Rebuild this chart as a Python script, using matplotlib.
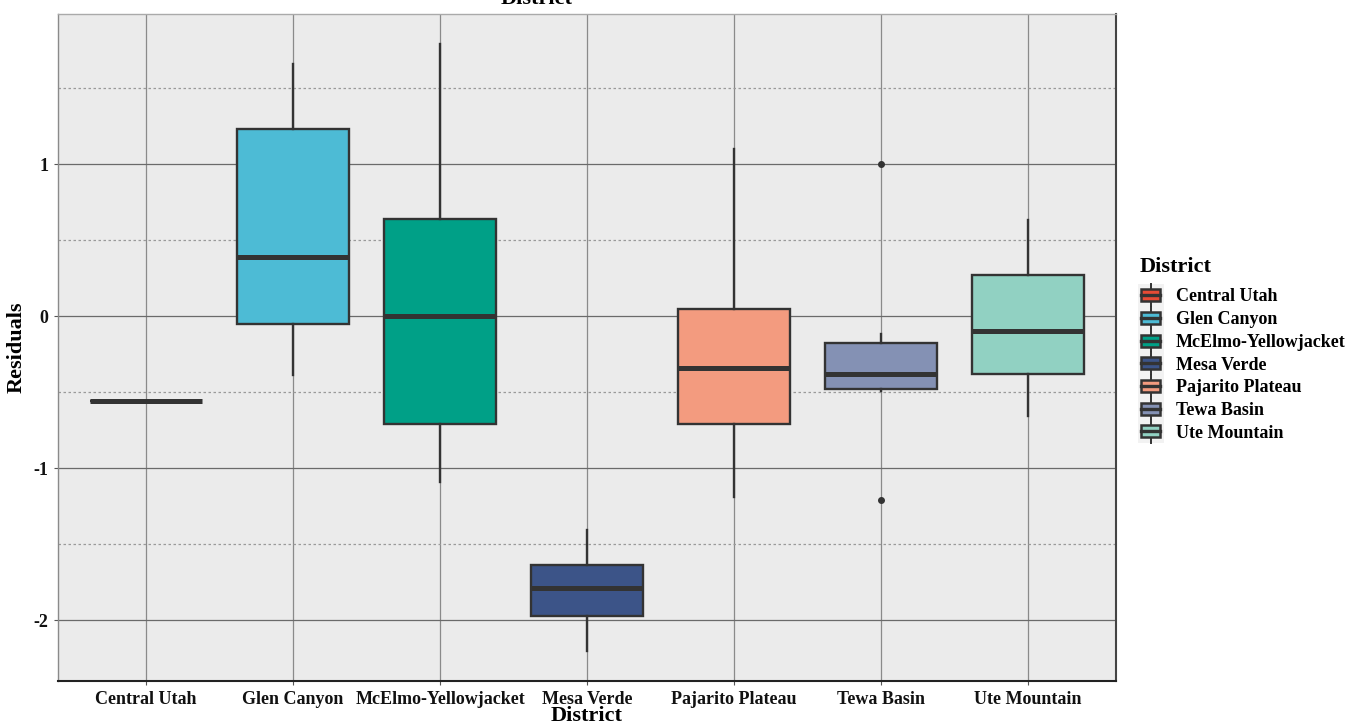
import matplotlib
matplotlib.use("Agg")
import matplotlib.pyplot as plt
from matplotlib.legend_handler import HandlerBase
from matplotlib.patches import Rectangle
from matplotlib.lines import Line2D
from matplotlib.ticker import MultipleLocator

plt.rcParams["font.family"] = ["Liberation Serif", "DejaVu Serif"]
plt.rcParams["font.weight"] = "bold"
plt.rcParams["axes.unicode_minus"] = False

# Residual summaries per district
districts = ["Central Utah", "Glen Canyon", "McElmo-Yellowjacket", "Mesa Verde",
             "Pajarito Plateau", "Tewa Basin", "Ute Mountain"]
colors = ["#E64B35", "#4DBBD5", "#00A087", "#3C5488", "#F39B7F", "#8491B4", "#91D1C2"]
whisker_low = [-0.56, -0.39, -1.09, -2.20, -1.19, -0.49, -0.66]
q1 = [-0.56, -0.05, -0.71, -1.97, -0.71, -0.48, -0.38]
median = [-0.56, 0.39, 0.00, -1.79, -0.34, -0.38, -0.10]
q3 = [-0.56, 1.23, 0.64, -1.64, 0.05, -0.18, 0.27]
whisker_high = [-0.56, 1.66, 1.79, -1.41, 1.10, -0.12, 0.63]
outliers = [[], [], [], [], [], [1.00, -1.21], []]

edge = "#333333"

fig = plt.figure(figsize=(13.49, 7.23), dpi=100)
ax = fig.add_axes([58 / 1349, 1 - 681 / 723, (1116 - 58) / 1349, (681 - 14) / 723])
ax.set_facecolor("#EBEBEB")

stats = []
for i, name in enumerate(districts):
    stats.append(dict(label=name, whislo=whisker_low[i], q1=q1[i], med=median[i],
                      q3=q3[i], whishi=whisker_high[i], fliers=outliers[i]))

positions = list(range(1, len(districts) + 1))
bp = ax.bxp(stats, positions=positions, widths=0.76, patch_artist=True,
            showcaps=False,
            boxprops=dict(edgecolor=edge, linewidth=1.7),
            medianprops=dict(color=edge, linewidth=3.6, solid_capstyle="butt"),
            whiskerprops=dict(color=edge, linewidth=1.7),
            flierprops=dict(marker="o", markersize=4, markerfacecolor=edge,
                            markeredgecolor=edge, linestyle="none"),
            zorder=3)
for patch, c in zip(bp["boxes"], colors):
    patch.set_facecolor(c)

ax.set_xlim(0.4, 7.6)
ax.set_ylim(-2.40, 1.987)
ax.set_xticks(positions)
ax.set_xticklabels(districts)
ax.yaxis.set_major_locator(MultipleLocator(1))
ax.yaxis.set_minor_locator(MultipleLocator(0.5))

ax.grid(axis="y", which="major", color="#6a6a6a", linewidth=0.9, zorder=0)
ax.grid(axis="y", which="minor", color="#9a9a9a", linewidth=0.9,
        linestyle=(0, (2, 2)), zorder=0)
ax.grid(axis="x", which="major", color="#8a8a8a", linewidth=0.9, zorder=0)
ax.set_axisbelow(True)

ax.tick_params(axis="both", which="major", length=3, width=0.8, color="#555555",
               labelsize=13, pad=4)
ax.tick_params(axis="y", which="minor", length=0)
for lbl in ax.get_xticklabels() + ax.get_yticklabels():
    lbl.set_fontweight("bold")
    lbl.set_color("#111111")

ax.spines["left"].set_color("#8a8a8a")
ax.spines["top"].set_color("#aaaaaa")
ax.spines["right"].set_color("#444444")
ax.spines["bottom"].set_color("#222222")
for s in ax.spines.values():
    s.set_linewidth(1.0)
ax.spines["right"].set_linewidth(1.5)
ax.spines["bottom"].set_linewidth(1.5)

ax.set_xlabel("District", fontsize=16, fontweight="bold", labelpad=-1)
ax.set_ylabel("Residuals", fontsize=16, fontweight="bold", labelpad=5)
fig.text(537 / 1349, 1 - 4 / 723, "District", ha="center", va="baseline",
         fontsize=16, fontweight="bold")


class BoxKeyHandler(HandlerBase):
    def create_artists(self, legend, orig_handle, xdescent, ydescent,
                       width, height, fontsize, trans):
        fc = orig_handle.get_facecolor()
        bg = Rectangle((-xdescent - 1, -ydescent - 3), width + 2, height + 6,
                       facecolor="#F2F2F2", edgecolor="none", transform=trans)
        x0 = -xdescent + width * 0.1
        w = width * 0.8
        y0 = -ydescent + height * 0.08
        h = height * 0.84
        box = Rectangle((x0, y0), w, h, facecolor=fc, edgecolor=edge,
                        linewidth=1.8, transform=trans)
        xm = -xdescent + width / 2
        top = Line2D([xm, xm], [y0 + h, -ydescent + height + 3], color=edge,
                     linewidth=1.4, transform=trans)
        bot = Line2D([xm, xm], [-ydescent - 3, y0], color=edge,
                     linewidth=1.4, transform=trans)
        med = Line2D([x0, x0 + w], [y0 + h / 2, y0 + h / 2], color=edge,
                     linewidth=2.4, transform=trans)
        return [bg, top, bot, box, med]


fig.text(1140 / 1349, 1 - 267 / 723, "District", ha="left", va="center",
         fontsize=16, fontweight="bold")
handles = [Rectangle((0, 0), 1, 1, facecolor=c) for c in colors]
leg = fig.legend(handles, districts, loc="upper left",
                 bbox_to_anchor=(1139 / 1349, 1 - 288 / 723),
                 handler_map={Rectangle: BoxKeyHandler()},
                 frameon=False,
                 prop=dict(size=13, weight="bold"), handlelength=1.3,
                 handleheight=0.85, labelspacing=0.29, handletextpad=0.75,
                 borderaxespad=0, borderpad=0)

fig.savefig("out.png", dpi=100)
